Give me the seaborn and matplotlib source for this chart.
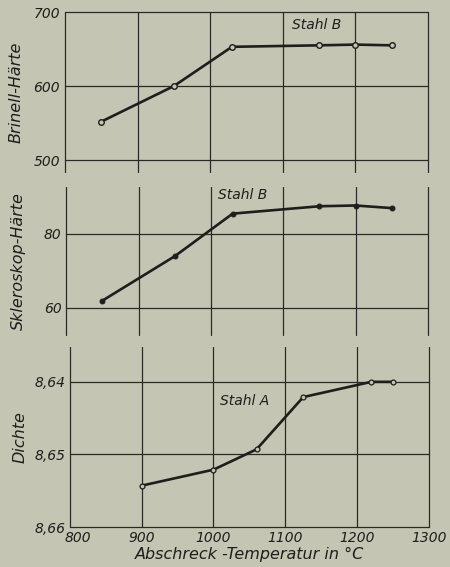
import matplotlib
matplotlib.use("Agg")
import matplotlib.pyplot as plt
import matplotlib.transforms as mtransforms
import seaborn as sns
import pandas as pd

# Data
temp_brinell = [850, 950, 1030, 1150, 1200, 1250]
brinell = [552, 600, 653, 655, 656, 655]

temp_sklero = [850, 950, 1030, 1150, 1200, 1250]
sklero = [62, 74, 85.5, 87.5, 87.7, 87.0]

temp_dichte = [900, 1000, 1060, 1125, 1220, 1250]
dichte = [8.6543, 8.6521, 8.6493, 8.6421, 8.6400, 8.6400]

x_ticks = [800, 900, 1000, 1100, 1200, 1300]
brinell_ticks = [500, 600, 700]
sklero_ticks = [60, 80]
dichte_ticks = [8.64, 8.65, 8.66]
dichte_labels = ["8,64", "8,65", "8,66"]

sns.set_theme(style="white")
plt.rcParams['font.family'] = ['DejaVu Sans']

BG = "#c4c5b3"
INK = "#1e1e1c"
GRID = "#2a2a28"

fig = plt.figure(figsize=(4.5, 5.67), dpi=100, facecolor=BG)
left, right = 0.1444, 0.951
ax1 = fig.add_axes([left, 1 - 172/567, right - left, (172 - 12)/567])
ax2 = fig.add_axes([left + 0.003, 1 - 335/567, right - left - 0.003, (335 - 187)/567])
ax3 = fig.add_axes([left + 0.011, 1 - 527/567, right - left - 0.009, (527 - 347)/567])

tick_font = dict(fontsize=10, fontstyle='italic')
label_font = dict(fontsize=11.5, fontstyle='italic', color=INK)

# Top: Brinell
df1 = pd.DataFrame({"T": temp_brinell, "H": brinell})
sns.lineplot(data=df1, x="T", y="H", ax=ax1, color=INK, lw=1.9, marker="o",
             markersize=4, markerfacecolor=BG, markeredgecolor=INK, markeredgewidth=1.0, zorder=3)

# Middle: Skleroskop
df2 = pd.DataFrame({"T": temp_sklero, "H": sklero})
sns.lineplot(data=df2, x="T", y="H", ax=ax2, color=INK, lw=1.9, marker="o",
             markersize=3.5, markerfacecolor=INK, markeredgecolor=INK, zorder=3)

# Bottom: Dichte
df3 = pd.DataFrame({"T": temp_dichte, "D": dichte})
sns.lineplot(data=df3, x="T", y="D", ax=ax3, color=INK, lw=1.9, marker="o",
             markersize=3.5, markerfacecolor=BG, markeredgecolor=INK, markeredgewidth=0.9, zorder=3)

for ax in (ax1, ax2, ax3):
    ax.set_facecolor(BG)
    ax.set_xlim(800, 1300)
    ax.set_xticks(x_ticks)
    ax.tick_params(length=0, colors=INK)
    ax.grid(False)
    for xv in x_ticks:
        ax.axvline(xv, color=GRID, lw=0.9, zorder=1, clip_on=False)
    for s in ax.spines.values():
        s.set_visible(False)
    ax.set_xlabel("")

ax1.set_ylim(484, 700)
ax1.set_yticks(brinell_ticks)
for yv in brinell_ticks:
    ax1.axhline(yv, color=GRID, lw=0.9, zorder=1, clip_on=False)
ax1.set_yticklabels([str(v) for v in brinell_ticks], **tick_font)
ax1.set_xticklabels([])
ax1.set_ylabel("Brinell-Härte", labelpad=7, **label_font)
ax1.text(1146, 682, "Stahl B", fontsize=10, fontstyle='italic', ha='center', va='center', color=INK)

ax2.set_ylim(52.7, 92.7)
ax2.set_yticks(sklero_ticks)
for yv in sklero_ticks:
    ax2.axhline(yv, color=GRID, lw=0.9, zorder=1, clip_on=False)
ax2.set_yticklabels([str(v) for v in sklero_ticks], **tick_font)
ax2.set_xticklabels([])
ax2.set_ylabel("Skleroskop-Härte", labelpad=13, **label_font)
ax2.text(1044, 90.5, "Stahl B", fontsize=10, fontstyle='italic', ha='center', va='center', color=INK)

ax3.set_ylim(8.66, 8.6352)
ax3.set_yticks(dichte_ticks)
for yv in dichte_ticks:
    ax3.axhline(yv, color=GRID, lw=0.9, zorder=1, clip_on=False)
ax3.set_yticklabels(dichte_labels, **tick_font)
ax3.set_xticklabels([str(v) for v in x_ticks], **tick_font)
ax3.tick_params(axis='x', pad=3)
# nudge the first x label right, like the reference
first = ax3.get_xticklabels()[0]
first.set_transform(first.get_transform() + mtransforms.ScaledTranslation(8/100, 0, fig.dpi_scale_trans))
ax3.set_ylabel("Dichte", labelpad=5, **label_font)
ax3.set_xlabel("Abschreck -Temperatur in °C", labelpad=1, **label_font)
ax3.text(1044, 8.6426, "Stahl A", fontsize=10, fontstyle='italic', ha='center', va='center', color=INK)

fig.savefig("out.png", dpi=100, facecolor=BG)
